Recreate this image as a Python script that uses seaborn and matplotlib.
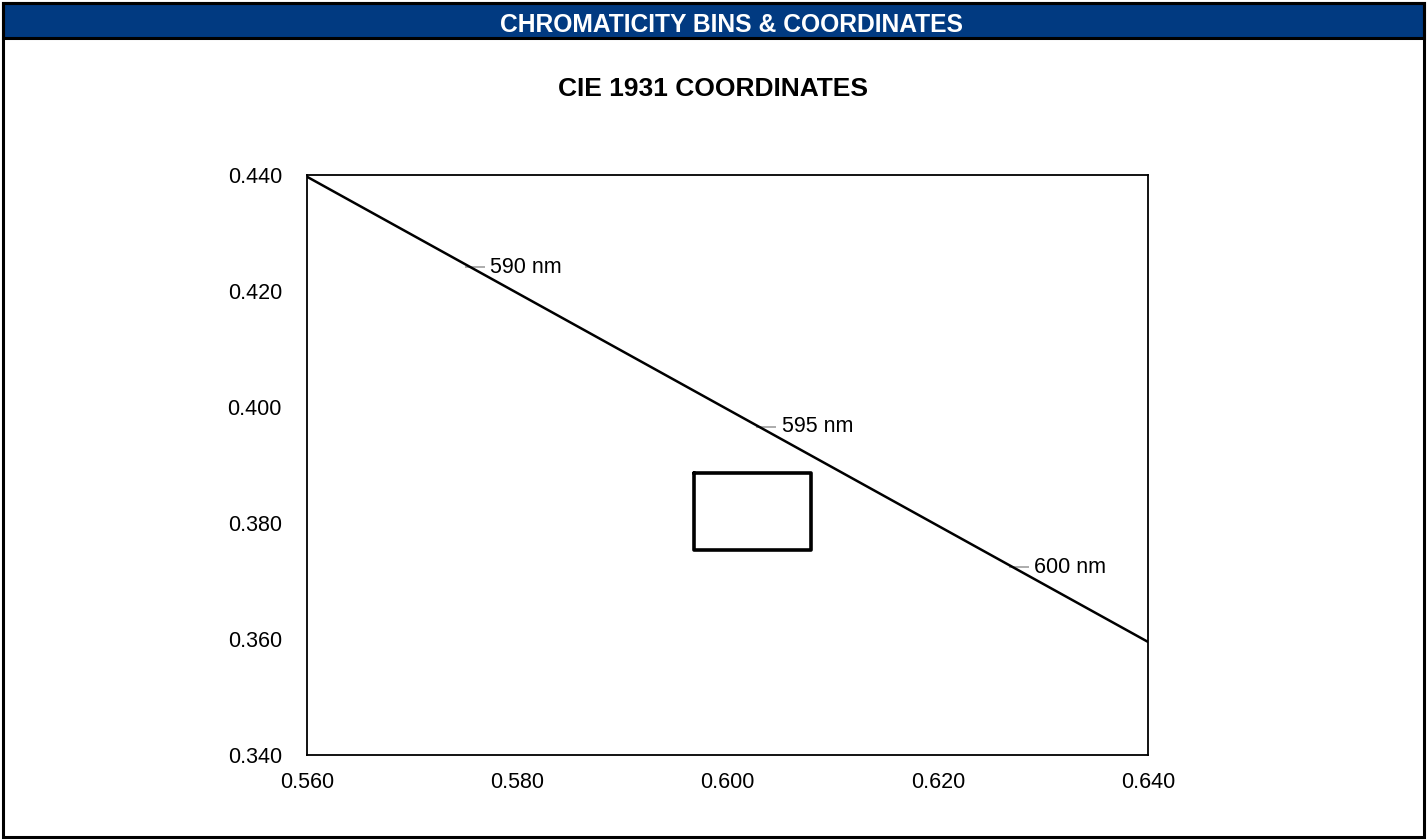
import matplotlib
matplotlib.use("Agg")
import matplotlib.pyplot as plt
from matplotlib.patches import Rectangle
import seaborn as sns
import pandas as pd

# Spectral locus segment (CIE 1931 x, y)
locus_x = [0.560, 0.640]
locus_y = [0.4397, 0.3595]

# Wavelength markers along the locus
wl_x = [0.5760, 0.6037, 0.6277]
wl_y = [0.4241, 0.3966, 0.3724]
wl_labels = ["590 nm", "595 nm", "600 nm"]

# Chromaticity bin corners (closed polygon)
bin_x = [0.5968, 0.6079, 0.6079, 0.5968, 0.5968]
bin_y = [0.3886, 0.3886, 0.3753, 0.3753, 0.3886]

x_ticks = [0.560, 0.580, 0.600, 0.620, 0.640]
y_ticks = [0.340, 0.360, 0.380, 0.400, 0.420, 0.440]

sns.set_theme(style="white")
plt.rcParams["font.family"] = ["Liberation Sans", "DejaVu Sans"]

W, H = 1427, 840
fig = plt.figure(figsize=(W / 100, H / 100), dpi=100)
fig.patch.set_facecolor("white")

# Header band and outer frame
fig.patches.append(Rectangle((3 / W, 1 - 38 / H), 1 - 6 / W, 35 / H, transform=fig.transFigure,
                             facecolor="#013A81", edgecolor="black", linewidth=2.2, zorder=0))
fig.patches.append(Rectangle((3 / W, 3 / H), 1 - 6 / W, 1 - 6 / H, transform=fig.transFigure,
                             facecolor="none", edgecolor="black", linewidth=2.2, zorder=1))
fig.text(732 / W, 1 - 23 / H, "CHROMATICITY BINS & COORDINATES", ha="center", va="center_baseline",
         color="white", fontsize=17.7, fontweight="bold")
fig.text(712.5 / W, 1 - 87 / H, "CIE 1931 COORDINATES", ha="center", va="center_baseline",
         color="black", fontsize=19, fontweight="bold")

ax = fig.add_axes([307 / W, 1 - 755 / H, (1148 - 307) / W, (755 - 175) / H])

locus = pd.DataFrame({"x": locus_x, "y": locus_y})
sns.lineplot(data=locus, x="x", y="y", ax=ax, color="black", linewidth=1.8,
             sort=False, estimator=None)

bins = pd.DataFrame({"x": bin_x, "y": bin_y})
sns.lineplot(data=bins, x="x", y="y", ax=ax, color="black", linewidth=2.6,
             sort=False, estimator=None)

marks = pd.DataFrame({"x": wl_x, "y": wl_y, "label": wl_labels})
sns.scatterplot(data=marks, x="x", y="y", ax=ax, marker="_", s=200, color="#a6a6a6",
                linewidth=1.3, zorder=1)
for xv, yv, lab in zip(wl_x, wl_y, wl_labels):
    ax.annotate(lab, (xv, yv), xytext=(11, 0), textcoords="offset points",
                ha="left", va="center", fontsize=15.5, color="black")

ax.set_xlim(x_ticks[0], x_ticks[-1])
ax.set_ylim(y_ticks[0], y_ticks[-1])
ax.set_xticks(x_ticks)
ax.set_yticks(y_ticks)
ax.set_xticklabels([f"{v:.3f}" for v in x_ticks])
ax.set_yticklabels([f"{v:.3f}" for v in y_ticks])
ax.tick_params(axis="both", length=0, labelsize=15.5, colors="black")
ax.tick_params(axis="x", pad=12)
ax.tick_params(axis="y", pad=18)
ax.set_xlabel("")
ax.set_ylabel("")
for sp in ax.spines.values():
    sp.set_visible(True)
    sp.set_color("black")
    sp.set_linewidth(1.3)
ax.grid(False)

fig.savefig("out.png", dpi=100)
